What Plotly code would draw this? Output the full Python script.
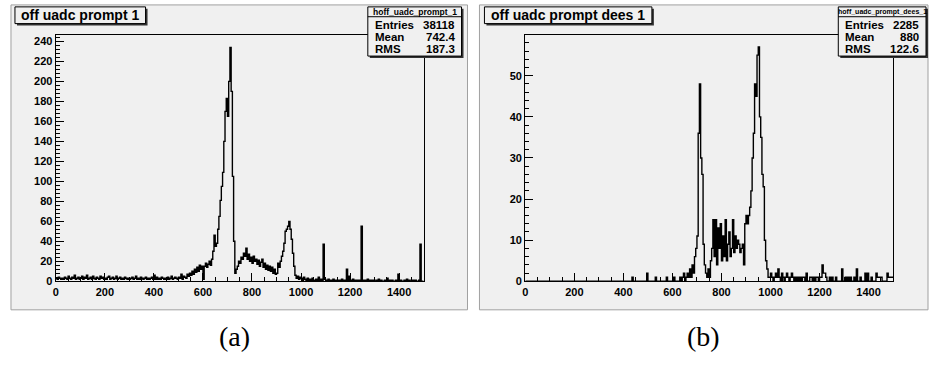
import plotly.graph_objects as go

# ---------------- data ----------------
BIN_WIDTH = 5
X_MIN, X_MAX = 0, 1500

# hoff_uadc_prompt_1 : counts per 5-unit bin (20 bins per 100 units)
counts_a = (
    [3, 2, 4, 3, 2, 3, 2, 4, 3, 2, 5, 3, 2, 4, 3, 6, 2, 3, 4, 2] +          # 0-100
    [3, 5, 2, 4, 3, 6, 2, 3, 4, 2, 5, 3, 2, 4, 3, 2, 5, 3, 4, 2] +          # 100-200
    [3, 2, 4, 5, 2, 3, 4, 2, 3, 5, 2, 3, 4, 2, 3, 2, 4, 3, 2, 3] +          # 200-300
    [2, 3, 4, 2, 3, 5, 2, 3, 2, 4, 3, 2, 3, 4, 2, 3, 2, 3, 4, 2] +          # 300-400
    [6, 2, 4, 2, 3, 2, 4, 3, 2, 3, 2, 4, 2, 3, 5, 2, 3, 4, 3, 2] +          # 400-500
    [4, 3, 7, 2, 5, 4, 3, 7, 5, 8, 6, 10, 7, 12, 9, 14, 10, 16, 12, 15] +   # 500-600
    [2, 15, 18, 14, 17, 20, 16, 22, 30, 46, 35, 38, 52, 65, 81, 95, 109, 140, 170, 183] +  # 600-700
    [165, 200, 234, 190, 105, 40, 8, 12, 15, 20, 18, 24, 22, 28, 25, 33, 22, 27, 20, 24] +  # 700-800
    [18, 25, 20, 22, 17, 21, 15, 19, 22, 14, 18, 12, 16, 11, 15, 10, 14, 8, 12, 7] +  # 800-900
    [8, 18, 14, 20, 25, 30, 38, 50, 52, 55, 60, 52, 42, 28, 15, 6, 3, 5, 2, 4] +  # 900-1000
    [3, 1, 4, 2, 1, 3, 0, 2, 1, 3, 1, 0, 2, 1, 4, 1, 2, 1, 37, 2] +         # 1000-1100
    [1, 0, 2, 1, 0, 1, 2, 0, 1, 0, 1, 0, 1, 2, 0, 1, 0, 12, 1, 5] +         # 1100-1200
    [1, 0, 2, 1, 0, 1, 0, 1, 0, 55, 1, 0, 1, 0, 2, 0, 1, 0, 1, 0] +         # 1200-1300
    [0, 1, 0, 2, 0, 1, 0, 0, 1, 0, 3, 0, 1, 0, 1, 0, 0, 1, 0, 7] +          # 1300-1400
    [0, 1, 0, 0, 1, 0, 2, 0, 1, 0, 0, 1, 0, 1, 0, 0, 1, 37, 0, 0]           # 1400-1500
)

# hoff_uadc_prompt_dees_1
counts_b = (
    [0] * 20 + [0] * 20 + [0] * 20 + [0] * 20 +                             # 0-400
    [0, 0, 0, 0, 0, 0, 0, 1, 0, 0, 0, 0, 0, 0, 0, 0, 0, 0, 0, 2] +          # 400-500
    [0, 0, 0, 0, 0, 0, 1, 0, 0, 0, 0, 0, 0, 0, 0, 1, 0, 0, 0, 0] +          # 500-600
    [0, 1, 0, 0, 0, 0, 1, 0, 1, 2, 0, 1, 2, 1, 3, 1, 4, 2, 6, 8] +          # 600-700
    [11, 36, 48, 30, 26, 9, 4, 2, 1, 3, 1, 5, 8, 15, 6, 15, 4, 13, 8, 14] + # 700-800
    [5, 11, 6, 15, 5, 9, 12, 6, 8, 15, 7, 11, 8, 10, 9, 7, 8, 9, 4, 14] +   # 800-900
    [16, 14, 16, 18, 22, 30, 36, 48, 45, 55, 57, 40, 35, 26, 23, 10, 5, 3, 1, 1] +  # 900-1000
    [2, 1, 0, 1, 2, 1, 3, 1, 0, 2, 1, 0, 1, 2, 1, 0, 1, 2, 1, 0] +          # 1000-1100
    [1, 0, 1, 0, 1, 0, 1, 1, 0, 2, 0, 0, 1, 1, 0, 1, 0, 1, 1, 0] +          # 1100-1200
    [1, 1, 4, 2, 2, 1, 0, 0, 1, 0, 1, 0, 0, 1, 0, 0, 0, 0, 3, 0] +          # 1200-1300
    [0, 1, 0, 1, 0, 1, 0, 0, 1, 0, 3, 0, 0, 1, 0, 0, 0, 2, 0, 2] +          # 1300-1400
    [0, 0, 1, 0, 0, 0, 2, 1, 1, 1, 1, 0, 0, 0, 0, 2, 1, 1, 1, 1]            # 1400-1500
)

titles = ["off uadc prompt 1", "off uadc prompt dees 1"]
hist_names = ["hoff_uadc_prompt_1", "hoff_uadc_prompt_dees_1"]
stat_labels = ["Entries", "Mean", "RMS"]
stat_values_a = ["38118", "742.4", "187.3"]
stat_values_b = ["2285", "880", "122.6"]
captions = ["(a)", "(b)"]

# ---------------- layout helpers ----------------
W, H = 929, 365
SANS = "Liberation Sans, Arial, Helvetica, sans-serif"


def PX(x):
    return x / W


def PY(y):
    return 1 - y / H


def step(counts):
    edges = [X_MIN + i * BIN_WIDTH for i in range(len(counts) + 1)]
    return edges, list(counts) + [counts[-1]]


fig = go.Figure()
xa, ya = step(counts_a)
xb, yb = step(counts_b)
fig.add_trace(go.Scatter(x=xa, y=ya, mode="lines", xaxis="x", yaxis="y",
                         line=dict(color="black", width=1.4, shape="hv"),
                         hoverinfo="skip", showlegend=False))
fig.add_trace(go.Scatter(x=xb, y=yb, mode="lines", xaxis="x2", yaxis="y2",
                         line=dict(color="black", width=1.4, shape="hv"),
                         hoverinfo="skip", showlegend=False))

tickfont = dict(family=SANS, size=11, color="black", weight="bold")
common = dict(showline=True, linecolor="black", linewidth=1.3, mirror=True,
              ticks="inside", tickcolor="black", ticklen=8, tickwidth=1,
              showgrid=False, zeroline=False, tickfont=tickfont,
              tickprefix="<b>", ticksuffix="</b>",
              fixedrange=True)

panels = [
    dict(px0=8, px1=466, fx0=53, fx1=422, ymax=246, ydt=20, ymin_dt=4,
         tbox=(12, 143), sbox=(366, 460), cap_x=232),
    dict(px0=478, px1=928, fx0=524, fx1=893, ymax=59.8, ydt=10, ymin_dt=2,
         tbox=(483, 651), sbox=(838, 926), cap_x=703),
]
FY0, FY1 = 36, 286

layout = dict(
    width=W, height=H, margin=dict(l=0, r=0, t=0, b=0),
    paper_bgcolor="white", plot_bgcolor="rgba(0,0,0,0)",
    showlegend=False,
    font=dict(family=SANS, color="black"),
)
shapes = []
annotations = []
stat_vals = [stat_values_a, stat_values_b]

for i, p in enumerate(panels):
    xk = "xaxis" if i == 0 else "xaxis2"
    yk = "yaxis" if i == 0 else "yaxis2"
    yref = "y" if i == 0 else "y2"
    xref = "x" if i == 0 else "x2"
    layout[xk] = dict(common, domain=[PX(p["fx0"]), PX(p["fx1"])],
                      range=[X_MIN, X_MAX], tick0=0, dtick=200, anchor=yref,
                      minor=dict(dtick=50, ticklen=4, ticks="inside",
                                 tickcolor="black", showgrid=False))
    layout[yk] = dict(common, domain=[PY(FY1), PY(FY0)],
                      range=[0, p["ymax"]], tick0=0, dtick=p["ydt"], anchor=xref,
                      minor=dict(dtick=p["ymin_dt"], ticklen=4, ticks="inside",
                                 tickcolor="black", showgrid=False))
    # canvas pad
    shapes.append(dict(type="rect", xref="paper", yref="paper", layer="below",
                       x0=PX(p["px0"]), x1=PX(p["px1"]), y0=PY(315), y1=PY(5),
                       fillcolor="#f0f0f0", line=dict(color="#a0a0a0", width=1)))
    # title box with shadow
    t0, t1 = p["tbox"]
    shapes.append(dict(type="rect", xref="paper", yref="paper", layer="above",
                       x0=PX(t0 + 2), x1=PX(t1 + 2), y0=PY(26), y1=PY(9),
                       fillcolor="#333333", line=dict(width=0)))
    shapes.append(dict(type="rect", xref="paper", yref="paper", layer="above",
                       x0=PX(t0), x1=PX(t1), y0=PY(24), y1=PY(7),
                       fillcolor="#f0f0f0", line=dict(color="black", width=1)))
    annotations.append(dict(xref="paper", yref="paper", x=PX((t0 + t1) / 2), y=PY(15.5),
                            text="<b>" + titles[i] + "</b>", showarrow=False,
                            xanchor="center", yanchor="middle",
                            font=dict(size=14, color="black", family=SANS)))
    # stat box with shadow
    s0, s1 = p["sbox"]
    shapes.append(dict(type="rect", xref="paper", yref="paper", layer="above",
                       x0=PX(s0 + 2), x1=PX(s1 + 2), y0=PY(59), y1=PY(9),
                       fillcolor="#333333", line=dict(width=0)))
    shapes.append(dict(type="rect", xref="paper", yref="paper", layer="above",
                       x0=PX(s0), x1=PX(s1), y0=PY(57), y1=PY(7),
                       fillcolor="#f0f0f0", line=dict(color="black", width=1)))
    shapes.append(dict(type="line", xref="paper", yref="paper", layer="above",
                       x0=PX(s0), x1=PX(s1), y0=PY(17), y1=PY(17),
                       line=dict(color="black", width=1)))
    annotations.append(dict(xref="paper", yref="paper", x=PX((s0 + s1) / 2), y=PY(12),
                            text="<b>" + hist_names[i] + "</b>", showarrow=False,
                            xanchor="center", yanchor="middle",
                            font=dict(size=8.5 if i == 0 else 7, color="black",
                                      family=SANS)))
    for j, (lab, val) in enumerate(zip(stat_labels, stat_vals[i])):
        yy = PY(25 + j * 12.5)
        annotations.append(dict(xref="paper", yref="paper", x=PX(s0 + 5), y=yy,
                                text="<b>" + lab + "</b>", showarrow=False,
                                xanchor="left", yanchor="middle",
                                font=dict(size=11.5, color="black", family=SANS)))
        annotations.append(dict(xref="paper", yref="paper", x=PX(s1 - 5), y=yy,
                                text="<b>" + val + "</b>", showarrow=False,
                                xanchor="right", yanchor="middle",
                                font=dict(size=11.5, color="black", family=SANS)))
    # caption
    annotations.append(dict(xref="paper", yref="paper", x=PX(p["cap_x"]), y=PY(342),
                            text=captions[i], showarrow=False, xanchor="center",
                            yanchor="middle",
                            font=dict(size=28, color="black",
                                      family="Liberation Serif, DejaVu Serif, serif")))

layout["shapes"] = shapes
layout["annotations"] = annotations
fig.update_layout(**layout)
fig.write_html("out.html")
